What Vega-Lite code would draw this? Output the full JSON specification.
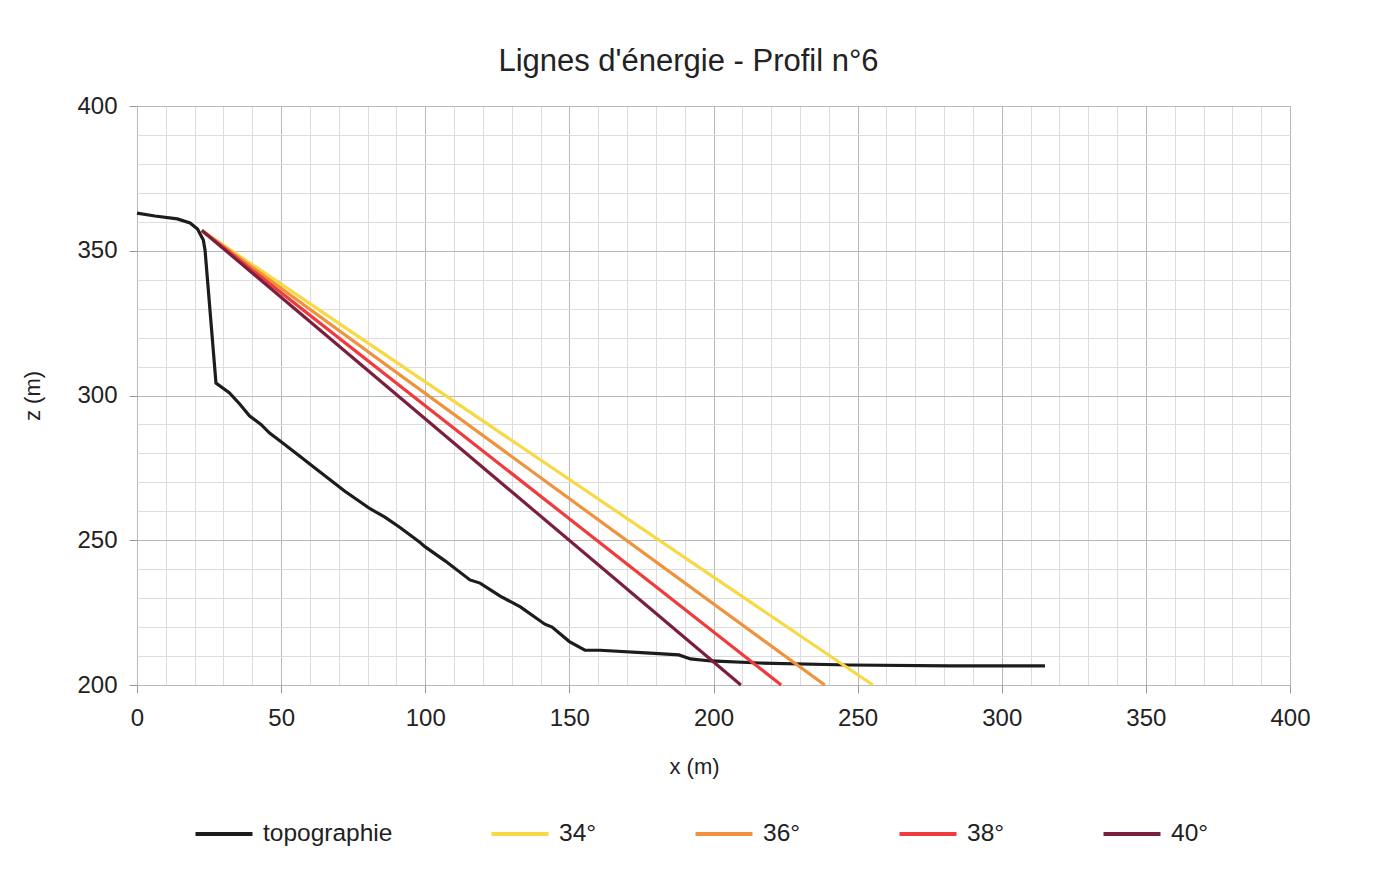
{
  "$schema": "https://vega.github.io/schema/vega-lite/v6.json",
  "width": 1153,
  "height": 579,
  "autosize": {"type": "none"},
  "padding": {"left": 137, "top": 106, "right": 90, "bottom": 197},
  "background": "white",
  "title": {
    "text": "Lignes d'énergie - Profil n°6",
    "font": "Liberation Sans",
    "fontSize": 31,
    "fontWeight": "normal",
    "color": "#222222",
    "offset": 16,
    "dx": -25
  },
  "config": {
    "view": {"stroke": null},
    "font": "Liberation Sans"
  },
  "data": {
    "values": [
      {"serie": "topographie", "x": 0, "z": 363},
      {"serie": "topographie", "x": 6.2, "z": 362},
      {"serie": "topographie", "x": 14, "z": 361},
      {"serie": "topographie", "x": 18.4, "z": 359.6},
      {"serie": "topographie", "x": 21, "z": 357.5},
      {"serie": "topographie", "x": 23, "z": 353.7},
      {"serie": "topographie", "x": 23.6, "z": 350.3},
      {"serie": "topographie", "x": 27.4, "z": 304.3},
      {"serie": "topographie", "x": 32, "z": 301},
      {"serie": "topographie", "x": 35.7, "z": 297},
      {"serie": "topographie", "x": 39, "z": 293},
      {"serie": "topographie", "x": 43, "z": 290},
      {"serie": "topographie", "x": 46, "z": 287},
      {"serie": "topographie", "x": 50, "z": 284},
      {"serie": "topographie", "x": 56.5, "z": 279},
      {"serie": "topographie", "x": 63.5, "z": 273.6},
      {"serie": "topographie", "x": 72, "z": 267},
      {"serie": "topographie", "x": 81, "z": 260.8},
      {"serie": "topographie", "x": 86, "z": 258},
      {"serie": "topographie", "x": 91, "z": 254.6},
      {"serie": "topographie", "x": 98, "z": 249.4},
      {"serie": "topographie", "x": 100, "z": 247.7},
      {"serie": "topographie", "x": 107, "z": 242.8},
      {"serie": "topographie", "x": 115.5, "z": 236.3},
      {"serie": "topographie", "x": 119, "z": 235.2},
      {"serie": "topographie", "x": 126, "z": 230.7},
      {"serie": "topographie", "x": 133, "z": 227},
      {"serie": "topographie", "x": 141.5, "z": 221},
      {"serie": "topographie", "x": 144, "z": 220},
      {"serie": "topographie", "x": 150, "z": 215},
      {"serie": "topographie", "x": 155.4, "z": 212},
      {"serie": "topographie", "x": 160.6, "z": 212},
      {"serie": "topographie", "x": 178, "z": 211},
      {"serie": "topographie", "x": 188, "z": 210.4},
      {"serie": "topographie", "x": 192, "z": 209},
      {"serie": "topographie", "x": 199, "z": 208.3},
      {"serie": "topographie", "x": 216, "z": 207.6},
      {"serie": "topographie", "x": 247, "z": 206.9},
      {"serie": "topographie", "x": 282, "z": 206.6},
      {"serie": "topographie", "x": 315, "z": 206.6},
      {"serie": "34°", "x": 22.5, "z": 357},
      {"serie": "34°", "x": 255.3, "z": 200},
      {"serie": "36°", "x": 22.5, "z": 357},
      {"serie": "36°", "x": 238.6, "z": 200},
      {"serie": "38°", "x": 22.5, "z": 357},
      {"serie": "38°", "x": 223.5, "z": 200},
      {"serie": "40°", "x": 22.5, "z": 357},
      {"serie": "40°", "x": 209.5, "z": 200}
    ]
  },
  "mark": {"type": "line", "strokeWidth": 3.2},
  "encoding": {
    "x": {
      "field": "x",
      "type": "quantitative",
      "scale": {"domain": [0, 400], "nice": false, "zero": false},
      "axis": {
        "title": "x (m)",
        "titleFont": "Liberation Sans",
        "titleFontSize": 22,
        "titleFontWeight": "normal",
        "titleColor": "#222222",
        "titlePadding": 26,
        "titleX": 557,
        "values": [0,10,20,30,40,50,60,70,80,90,100,110,120,130,140,150,160,170,180,190,200,210,220,230,240,250,260,270,280,290,300,310,320,330,340,350,360,370,380,390,400],
        "labelExpr": "datum.value % 50 === 0 ? datum.label : ''",
        "labelFontSize": 24,
        "labelColor": "#222222",
        "labelPadding": 13,
        "labelFlush": false,
        "domain": false,
        "tickSize": 8,
        "tickColor": "#999999",
        "tickOpacity": {"condition": {"test": "datum.value % 50 === 0", "value": 1}, "value": 0},
        "grid": true,
        "gridColor": {"condition": {"test": "datum.value % 50 === 0", "value": "#b8b8b8"}, "value": "#dddddd"},
        "gridWidth": 1
      }
    },
    "y": {
      "field": "z",
      "type": "quantitative",
      "scale": {"domain": [200, 400], "nice": false, "zero": false},
      "axis": {
        "title": "z (m)",
        "titleFont": "Liberation Sans",
        "titleFontSize": 22,
        "titleFontWeight": "normal",
        "titleColor": "#222222",
        "titlePadding": 32,
        "values": [200,210,220,230,240,250,260,270,280,290,300,310,320,330,340,350,360,370,380,390,400],
        "labelExpr": "datum.value % 50 === 0 ? datum.label : ''",
        "labelFontSize": 24,
        "labelColor": "#222222",
        "labelPadding": 12,
        "labelFlush": false,
        "domain": false,
        "tickSize": 8,
        "tickColor": "#999999",
        "tickOpacity": {"condition": {"test": "datum.value % 50 === 0", "value": 1}, "value": 0},
        "grid": true,
        "gridColor": {"condition": {"test": "datum.value % 50 === 0", "value": "#b8b8b8"}, "value": "#dddddd"},
        "gridWidth": 1
      }
    },
    "color": {
      "field": "serie",
      "type": "nominal",
      "scale": {
        "domain": ["topographie", "34°", "36°", "38°", "40°"],
        "range": ["#1c1c1c", "#f7d945", "#f0923c", "#ef3b3b", "#7a1f3d"]
      },
      "legend": {
        "title": null,
        "orient": "none",
        "legendX": 56,
        "legendY": 697,
        "direction": "horizontal",
        "columns": 5,
        "gridAlign": "none",
        "columnPadding": 90,
        "symbolType": "stroke",
        "symbolSize": 3250,
        "symbolStrokeWidth": 4,
        "labelFont": "Liberation Sans",
        "labelFontSize": 24.5,
        "labelColor": "#222222",
        "labelOffset": 8,
        "labelLimit": 300
      }
    }
  }
}
